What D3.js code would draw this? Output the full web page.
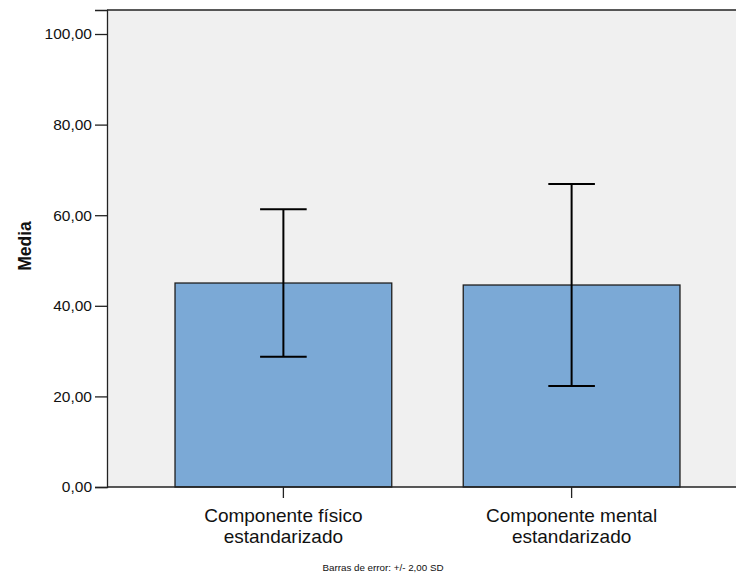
<!DOCTYPE html>
<html>
<head>
<meta charset="utf-8">
<script src="https://cdn.jsdelivr.net/npm/d3@7"></script>
<style>
  html, body { margin: 0; padding: 0; background: #ffffff; }
  svg { display: block; font-family: Arial, "Liberation Sans", sans-serif; }
</style>
</head>
<body>
<script>
// Means of the standardized SF-36 component scores, with +/- 2 SD error bars
const categories = [["Componente físico", "estandarizado"], ["Componente mental", "estandarizado"]];
const means = [45.03, 44.59];
const sds = [8.15, 11.14];
const sdMultiplier = 2;
const yTicks = [0, 20, 40, 60, 80, 100];
const yTitle = "Media";
const footnote = "Barras de error: +/- 2,00 SD";

const width = 736, height = 575;
const plot = { left: 107, top: 10, right: 748, bottom: 487 };

const svg = d3.select("body").append("svg")
  .attr("width", width).attr("height", height);

const x = d3.scaleBand()
  .domain(d3.range(categories.length))
  .range([plot.left, plot.right])
  .paddingInner(0.248)
  .paddingOuter(0.236);

const y = d3.scaleLinear()
  .domain([0, 105.3])
  .range([plot.bottom, plot.top]);

// plot background
svg.append("rect")
  .attr("x", plot.left).attr("y", plot.top)
  .attr("width", plot.right - plot.left).attr("height", plot.bottom - plot.top)
  .attr("fill", "#f0f0f0");

// bars
svg.append("g").selectAll("rect")
  .data(means)
  .join("rect")
  .attr("x", (d, i) => x(i))
  .attr("y", d => y(d))
  .attr("width", x.bandwidth())
  .attr("height", d => y(0) - y(d))
  .attr("fill", "#7ba9d6")
  .attr("stroke", "#1e1e1e")
  .attr("stroke-width", 1.3);

// error bars
const capHalf = 23.3;
const eb = svg.append("g").attr("stroke", "#000").attr("stroke-width", 2);
means.forEach((m, i) => {
  const cx = x(i) + x.bandwidth() / 2;
  const lo = m - sdMultiplier * sds[i];
  const hi = m + sdMultiplier * sds[i];
  eb.append("line").attr("x1", cx).attr("x2", cx).attr("y1", y(hi)).attr("y2", y(lo));
  eb.append("line").attr("x1", cx - capHalf).attr("x2", cx + capHalf).attr("y1", y(hi)).attr("y2", y(hi));
  eb.append("line").attr("x1", cx - capHalf).attr("x2", cx + capHalf).attr("y1", y(lo)).attr("y2", y(lo));
});

// frame: top, left and bottom edges
const frame = svg.append("g").attr("stroke", "#222").attr("stroke-width", 1.3).attr("fill", "none");
frame.append("line").attr("x1", plot.left).attr("x2", width).attr("y1", plot.top).attr("y2", plot.top);

// y axis
const yAxis = svg.append("g")
  .attr("transform", `translate(${plot.left},0)`)
  .call(d3.axisLeft(y).tickValues(yTicks).tickSize(12).tickPadding(3)
    .tickFormat(d => d3.format(".2f")(d).replace(".", ",")));
yAxis.select(".domain").attr("stroke", "#222").attr("stroke-width", 1.3);
yAxis.selectAll(".tick line").attr("stroke", "#222").attr("stroke-width", 1.3);
yAxis.selectAll(".tick text")
  .attr("font-size", 15.5).attr("fill", "#111")
  .style("font-family", "Arial, 'Liberation Sans', sans-serif");

// x axis
const xAxis = svg.append("g")
  .attr("transform", `translate(0,${plot.bottom})`)
  .call(d3.axisBottom(x).tickSize(11).tickFormat(""));
xAxis.select(".domain").remove();
xAxis.selectAll(".tick line").attr("stroke", "#222").attr("stroke-width", 1.3);
xAxis.append("line")
  .attr("x1", plot.left).attr("x2", width).attr("y1", 0).attr("y2", 0)
  .attr("stroke", "#222").attr("stroke-width", 1.3);

// category labels, two lines each
const catText = svg.append("g").selectAll("text")
  .data(categories)
  .join("text")
  .attr("x", (d, i) => x(i) + x.bandwidth() / 2)
  .attr("y", 521.5)
  .attr("text-anchor", "middle")
  .attr("font-size", 19)
  .attr("fill", "#111");
catText.each(function(lines) {
  const t = d3.select(this);
  lines.forEach((line, k) => {
    t.append("tspan")
      .attr("x", t.attr("x"))
      .attr("dy", k === 0 ? 0 : 21.5)
      .text(line);
  });
});

// y axis title
svg.append("text")
  .attr("transform", `translate(31,246) rotate(-90)`)
  .attr("text-anchor", "middle")
  .attr("font-size", 17.5)
  .attr("font-weight", "bold")
  .attr("fill", "#111")
  .text(yTitle);

// footnote
svg.append("text")
  .attr("x", 383)
  .attr("y", 571)
  .attr("text-anchor", "middle")
  .attr("font-size", 9.8)
  .attr("fill", "#111")
  .text(footnote);
</script>
</body>
</html>
